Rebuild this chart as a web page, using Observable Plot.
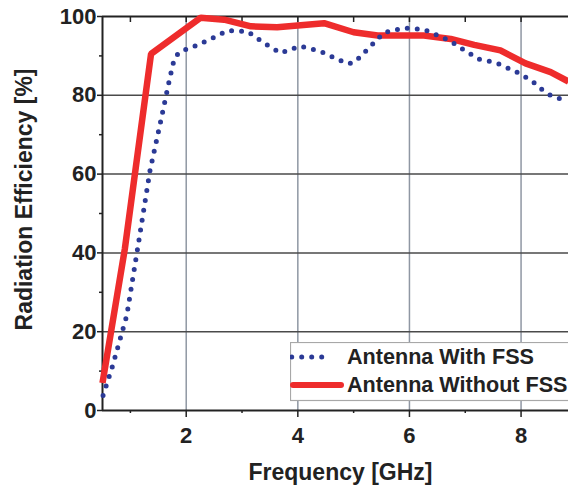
<!DOCTYPE html>
<html>
<head>
<meta charset="utf-8">
<script src="https://cdn.jsdelivr.net/npm/d3@7"></script>
<script src="https://cdn.jsdelivr.net/npm/@observablehq/plot@0.6"></script>
<style>
  html, body { margin: 0; padding: 0; background: #fff; }
  #wrap { position: relative; width: 568px; height: 487px; overflow: hidden; }
  #legend { position: absolute; left: 290px; top: 342px; }
</style>
</head>
<body>
<div id="wrap"></div>
<script>
// Radiation efficiency (%) versus frequency (GHz) for the two antenna configurations
const seriesNames = ["Antenna With FSS", "Antenna Without FSS"];

const freqWithFSS = [0.51, 0.68, 0.935, 1.145, 1.35, 1.55, 1.705, 1.79, 1.9, 2.08, 2.41, 2.74, 3.1, 3.4, 3.69,
  4.04, 4.4, 4.72, 4.89, 5.02, 5.28, 5.54, 5.9, 6.26, 6.59, 6.76, 6.91, 7.07, 7.23, 7.41, 7.59, 7.75,
  7.92, 8.08, 8.23, 8.38, 8.53, 8.7, 8.85];
const effWithFSS = [3.8, 11.3, 24.1, 42.5, 60.8, 73.9, 84.3, 89.5, 91.2, 92, 94.1, 96.4, 96.2, 93.2, 90.7,
  92.5, 91.2, 89.1, 88, 88.4, 92.1, 95.9, 97.1, 96.7, 94.7, 93.5, 92.1, 90.7, 89.2, 88.7, 88, 87,
  85.9, 84.6, 83.2, 81.4, 80, 79.1, 78.7];

const freqWithoutFSS = [0.5, 0.9, 1.37, 2.26, 2.68, 3.16, 3.63, 4.47, 5.0, 5.43, 6.26, 6.74, 7.16, 7.63, 8.08, 8.53, 8.85];
const effWithoutFSS = [7, 41, 90.5, 99.7, 99.2, 97.5, 97.3, 98.3, 96, 95.2, 95.2, 94.3, 92.8, 91.4, 88.1, 85.9, 83.5];

const xDomain = [0.5, 8.85];
const yDomain = [0, 100];
const xMajorTicks = [2, 4, 6, 8];
const xMinorTicks = [1, 3, 5, 7];
const xTopTicks = [1, 2, 3, 4, 5, 6, 7, 8];
const yMajorTicks = [0, 20, 40, 60, 80, 100];
const yMinorTicks = [10, 30, 50, 70, 90];
const yGridTicks = [20, 40, 60, 80];

const xTitle = "Frequency [GHz]";
const yTitle = "Radiation Efficiency [%]";

const colorWith = "#2b3a96";
const colorWithout = "#ee2c2c";
const ink = "#222";

const withFSS = freqWithFSS.map((f, i) => ({f, eff: effWithFSS[i]}));
const withoutFSS = freqWithoutFSS.map((f, i) => ({f, eff: effWithoutFSS[i]}));

const chart = Plot.plot({
  width: 568,
  height: 487,
  marginLeft: 102,
  marginRight: 0,
  marginTop: 16,
  marginBottom: 77,
  style: {
    fontFamily: "'Liberation Sans', Arial, sans-serif",
    fontWeight: "bold",
    color: ink,
    background: "#fff",
    overflow: "visible"
  },
  x: {domain: xDomain},
  y: {domain: yDomain},
  marks: [
    Plot.gridX({ticks: xMajorTicks, stroke: "#8f97a3", strokeOpacity: 1, strokeWidth: 1.5}),
    Plot.gridY({ticks: yGridTicks, stroke: "#4a4a4a", strokeOpacity: 1, strokeWidth: 1.5}),
    Plot.axisY({ticks: yMajorTicks, tickSize: 5, tickPadding: 1, fontSize: 22, label: null, stroke: ink, strokeWidth: 1.5}),
    Plot.axisY({ticks: yMinorTicks, tickSize: 3, text: null, label: null, stroke: ink, strokeWidth: 1.5}),
    Plot.axisX({ticks: xMajorTicks, tickSize: 7, tickPadding: 10, fontSize: 22, label: null, stroke: ink, strokeWidth: 1.5}),
    Plot.axisX({ticks: xMinorTicks, tickSize: 3, text: null, label: null, stroke: ink, strokeWidth: 1.5}),
    Plot.axisX({anchor: "top", ticks: xTopTicks, tickSize: -5, text: null, label: null, stroke: ink, strokeWidth: 1.5}),
    Plot.ruleX([xDomain[0]], {stroke: ink, strokeWidth: 2}),
    Plot.ruleY([yDomain[0], yDomain[1]], {stroke: ink, strokeWidth: 2}),
    Plot.line(withoutFSS, {x: "f", y: "eff", stroke: colorWithout, strokeWidth: 6.5, strokeLinejoin: "miter", strokeLinecap: "butt"}),
    Plot.line(withFSS, {x: "f", y: "eff", stroke: colorWith, strokeWidth: 5, strokeDasharray: "0 10", strokeLinecap: "round"}),
    Plot.text([xTitle], {frameAnchor: "bottom", textAnchor: "middle", dx: 5, dy: 69, fontSize: 23, fontWeight: "bold", fill: ink}),
    Plot.text([yTitle], {frameAnchor: "left", textAnchor: "middle", rotate: -90, dx: -78, dy: -14, fontSize: 23, fontWeight: "bold", fill: ink})
  ]
});

const wrap = document.getElementById("wrap");
wrap.appendChild(chart);

// Legend box in the lower right of the plot area
const legend = d3.create("svg")
  .attr("id", "legend")
  .attr("width", 290)
  .attr("height", 60)
  .style("font-family", "'Liberation Sans', Arial, sans-serif")
  .style("font-weight", "bold");

legend.append("rect")
  .attr("x", 0.5).attr("y", 0.5)
  .attr("width", 300).attr("height", 58)
  .attr("fill", "#fff")
  .attr("stroke", "#a8a8a8")
  .attr("stroke-width", 1.2);

const rows = [
  {name: seriesNames[0], color: colorWith, width: 5, dash: "0 10", cap: "round", x1: 1.7, x2: 41.7, y: 15, base: 22},
  {name: seriesNames[1], color: colorWithout, width: 6, dash: null, cap: "round", x1: 3, x2: 51, y: 43, base: 50}
];

const row = legend.selectAll("g.row").data(rows).join("g").attr("class", "row");
row.append("line")
  .attr("x1", d => d.x1).attr("x2", d => d.x2)
  .attr("y1", d => d.y).attr("y2", d => d.y)
  .attr("stroke", d => d.color)
  .attr("stroke-width", d => d.width)
  .attr("stroke-dasharray", d => d.dash)
  .attr("stroke-linecap", d => d.cap);
row.append("text")
  .attr("x", 57)
  .attr("y", d => d.base)
  .attr("fill", ink)
  .attr("font-size", 21.6)
  .text(d => d.name);

wrap.appendChild(legend.node());
</script>
</body>
</html>
